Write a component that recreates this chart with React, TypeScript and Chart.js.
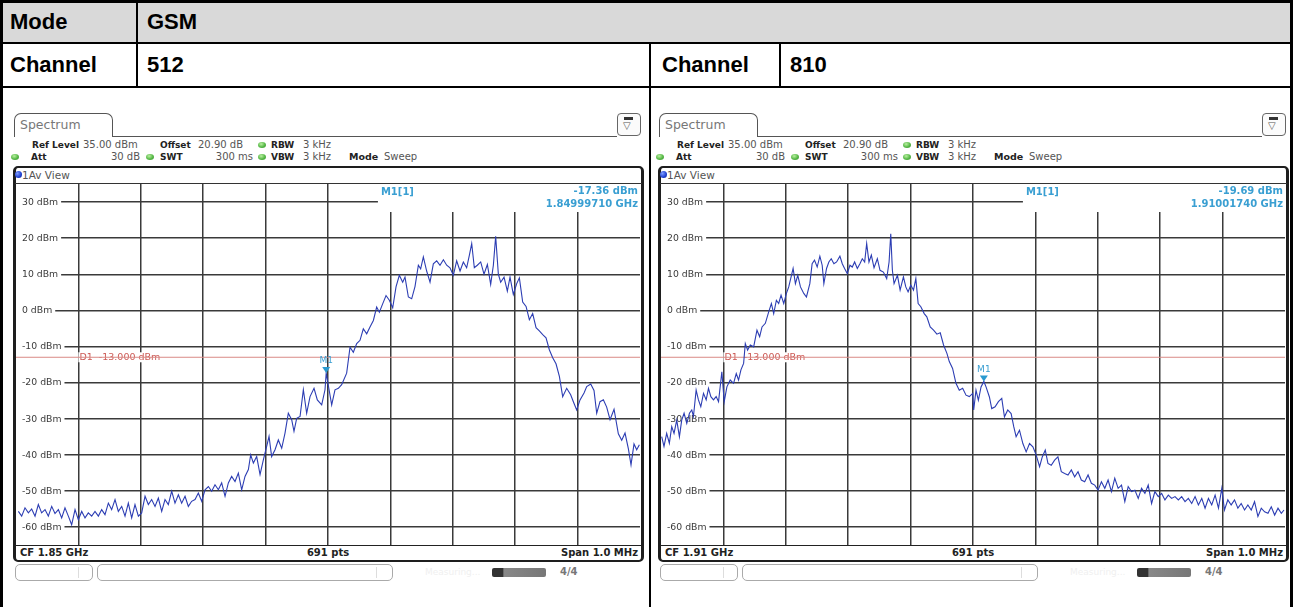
import React, { useEffect, useRef } from "react";
import { Chart, registerables } from "chart.js";
Chart.register(...registerables);

// ---------- axis definitions ----------
const Y_TICKS = [30, 20, 10, 0, -10, -20, -30, -40, -50, -60];
const Y_TICK_LABELS = ["30 dBm", "20 dBm", "10 dBm", "0 dBm", "-10 dBm", "-20 dBm", "-30 dBm", "-40 dBm", "-50 dBm", "-60 dBm"];
const X_TICKS = [-400, -300, -200, -100, 0, 100, 200, 300, 400];
const SPAN_KHZ = [-500, 500];
const LEVEL_RANGE = [-65, 35];
const D1_LEVEL = -13;
const D1_LABEL = "D1  -13.000 dBm";

// ---------- channel 512 trace (offset from CF in kHz, level in dBm) ----------
const FREQ_512 = [
  -496.2, -490.9, -485.6, -480.2, -474.9, -469.5, -464.2, -458.9, -453.5, -448.2,
  -442.8, -437.5, -432.1, -426.8, -421.5, -416.1, -410.8, -405.4, -400.1, -394.7,
  -389.4, -384.1, -378.7, -373.4, -368.0, -362.7, -357.4, -352.0, -346.7, -341.3,
  -336.0, -330.6, -325.3, -320.0, -314.6, -309.3, -303.9, -298.6, -293.2, -287.9,
  -282.6, -277.2, -271.9, -266.5, -261.2, -255.9, -250.5, -245.2, -239.8, -234.5,
  -229.1, -223.8, -218.5, -213.1, -207.8, -202.4, -197.1, -191.7, -186.4, -181.1,
  -175.7, -170.4, -165.0, -159.7, -154.4, -149.0, -143.7, -138.3, -133.0, -127.6,
  -123.9, -119.6, -114.3, -108.9, -103.6, -98.3, -94.5, -90.3, -84.9, -79.6,
  -74.2, -68.9, -63.6, -58.2, -54.5, -50.2, -44.8, -39.5, -34.2, -28.8,
  -22.4, -17.1, -10.1, -4.8, -2.9,
  5.9, 11.2, 16.6, 21.9, 29.9,
  35.3, 40.6, 46.0, 51.3, 56.6, 62.0, 67.3, 72.7, 78.0, 82.3,
  87.6, 93.0, 98.3, 103.7, 109.0, 114.3, 119.7, 123.4, 128.8, 134.1,
  139.4, 144.8, 148.5, 152.8, 158.1, 163.5, 168.8, 174.2, 179.5, 184.9,
  190.2, 195.5, 200.9, 206.2, 211.6, 216.9, 222.2, 226.5, 230.3, 234.5,
  239.3, 244.7, 250.0, 255.4, 260.7, 265.0, 268.7, 273.0, 276.7, 282.1,
  287.4, 291.7, 297.0, 302.4, 306.7, 312.0, 317.4, 322.7, 328.0, 333.4,
  338.7, 344.1, 349.4, 354.7, 360.1, 365.4, 370.8,
  376.1, 382.5, 388.9, 393.2, 398.5, 403.9, 410.3, 414.6, 421.0, 426.3,
  430.6, 435.9, 441.3, 446.6, 452.0, 458.4, 465.3, 470.7, 476.0, 481.4,
  485.6, 490.4, 494.7, 499.0,
];
const LEVEL_512 = [
  -55.7, -57.0, -54.7, -56.1, -55.0, -57.0, -53.8, -56.1, -55.2, -57.0,
  -54.3, -56.3, -55.2, -57.5, -54.7, -57.0, -59.4, -55.2, -58.0, -55.7,
  -57.5, -56.1, -57.0, -55.7, -57.0, -55.2, -56.6, -53.4, -55.2, -52.4,
  -55.7, -54.3, -57.0, -53.4, -57.5, -53.8, -57.0, -56.1, -51.5, -53.8,
  -52.4, -54.3, -52.0, -55.7, -52.4, -53.8, -50.1, -53.4, -51.1, -53.4,
  -51.5, -54.3, -52.9, -52.4, -50.6, -52.9, -49.7, -48.8, -50.1, -48.3,
  -49.7, -47.8, -51.5, -47.8, -46.0, -47.4, -45.1, -49.7, -46.0, -44.1,
  -40.0, -42.3, -40.5, -45.5, -41.4, -37.7, -34.9, -40.5, -38.6, -35.9,
  -38.2, -34.0, -28.5, -30.3, -33.5, -29.9, -29.4, -22.0, -28.5, -23.9,
  -21.6, -24.8, -26.2, -22.0, -17.36,
  -26.2, -22.0, -21.6, -20.6, -17.4,
  -10.2, -11.6, -9.2, -8.3, -5.1, -6.5, -4.6, -2.8, 0.9, -0.5,
  1.8, 4.1, 2.8, 0.7, 6.5, 9.7, 7.8, 9.2, 3.7, 3.2,
  6.6, 12.5, 11.5, 14.8, 10.9, 7.8, 12.9, 13.7, 12.5, 14.0,
  12.5, 11.8, 9.7, 13.7, 10.9, 13.4, 11.8, 15.2, 18.5, 11.8,
  12.5, 13.4, 10.0, 12.7, 7.2, 12.5, 20.5, 10.0, 7.8, 9.2,
  5.3, 9.2, 4.4, 7.4, 9.0, 2.3, 1.1, -2.6, -0.9, -4.8,
  -5.7, -6.7, -7.6, -10.9, -13.1, -14.8, -18.3,
  -23.9, -21.6, -23.4, -25.3, -27.6, -24.8, -22.9, -21.1, -20.4, -22.2,
  -28.5, -25.3, -24.8, -26.8, -30.3, -27.4, -34.2, -36.0, -34.0, -38.4,
  -42.8, -37.0, -38.6, -37.2,
];

// ---------- channel 810 trace ----------
const FREQ_810 = [
  -498.9, -495.2, -490.9, -486.6, -482.8, -479.1, -474.8, -470.5, -466.8, -463.0,
  -458.7, -454.4, -450.7, -448.0, -443.7, -440.0, -436.2, -431.9, -427.6, -423.9,
  -420.1, -415.9, -411.6, -407.8, -402.5, -398.7, -394.4, -389.1, -383.7, -379.4,
  -375.7, -371.9, -367.6, -364.9, -361.2, -356.9, -351.5, -346.2, -341.9, -338.1,
  -332.8, -327.4, -323.1, -319.4, -315.1, -311.4, -307.6, -303.3, -299.0, -295.3,
  -291.5, -288.3, -284.6, -280.8, -276.5, -271.2, -266.9, -261.5, -257.8, -254.0,
  -249.7, -245.4, -241.7, -239.0, -234.7, -231.0, -227.2, -222.9, -218.6, -213.3,
  -209.5, -205.8, -201.5, -197.2, -193.5, -189.7, -185.4, -181.2, -177.4, -173.6,
  -170.4, -166.7, -162.9, -158.6, -153.3, -149.0, -143.6, -138.3, -134.5, -131.8,
  -129.2, -126.5, -121.1, -116.8, -111.5, -107.7, -104.0, -99.7, -95.4, -91.6,
  -87.9, -83.6, -78.2, -74.0, -68.6, -63.2, -57.9, -52.5, -47.2, -41.8,
  -38.0, -32.7, -27.3, -22.0, -16.6, -11.2, -5.9, -0.5,
  1.1, 4.8, 8.6, 12.9, 17.4, 20.9, 26.3, 30.0, 35.4, 40.7,
  46.1, 50.4, 55.7, 61.1, 65.4, 69.1, 74.5, 79.9, 85.2, 90.6,
  96.0, 101.3, 106.7, 111.0, 115.8, 120.1, 125.4, 130.8, 136.1, 141.5,
  146.9, 152.2, 157.6, 162.9, 168.3, 173.6, 179.0, 184.4, 189.7, 195.1,
  200.4, 205.8, 211.2, 216.5, 221.9, 227.2, 232.6, 238.0, 243.3, 248.7,
  254.0, 259.4, 264.8, 270.1, 275.5, 280.8, 286.2, 291.5, 296.9, 302.3,
  307.6, 313.0, 318.3, 323.7, 329.1, 334.4, 339.8, 345.1, 350.5, 355.9,
  361.2, 366.6, 371.9, 377.3, 382.6, 388.0, 393.4, 398.7, 403.0, 408.4,
  413.7, 419.1, 424.5, 429.8, 435.2, 440.5, 445.9, 451.2, 456.6, 462.0,
  467.3, 472.7, 478.0, 483.4, 488.8, 494.1, 498.4,
];
const LEVEL_810 = [
  -35.0, -37.7, -34.1, -36.8, -32.2, -34.1, -30.4, -35.0, -30.4, -28.5,
  -31.3, -28.5, -27.6, -29.4, -22.1, -24.8, -26.7, -23.0, -24.8, -21.6,
  -23.9, -24.8, -23.9, -25.3, -17.0, -25.3, -21.2, -19.3, -20.2, -17.5,
  -19.3, -16.5, -14.7, -9.2, -11.0, -9.6, -10.1, -5.5, -7.3, -4.6,
  -3.6, -0.4, 1.9, -0.9, 2.8, 1.9, 4.2, 1.9, 4.7, 6.5,
  9.3, 11.6, 7.4, 9.7, 6.5, 4.7, 3.7, 7.4, 12.9, 13.9,
  12.0, 15.0, 12.5, 7.4, 11.6, 13.4, 14.3, 12.9, 13.4, 15.0,
  12.9, 11.6, 10.2, 12.5, 12.0, 13.4, 11.6, 12.9, 14.3, 13.4,
  18.5, 13.4, 15.3, 11.8, 14.3, 11.1, 10.6, 8.8, 13.4, 21.2,
  11.1, 7.4, 9.7, 5.6, 9.3, 6.5, 5.1, 7.0, 5.6, 8.8,
  1.9, 1.0, -0.9, -1.8, -4.6, -5.5, -6.6, -6.2, -9.6, -11.9,
  -14.2, -16.1, -20.2, -22.1, -21.6, -23.5, -23.9, -23.0,
  -27.6, -22.1, -24.9, -21.2, -19.69, -21.2, -24.0, -27.2, -26.7, -25.3,
  -24.4, -29.5, -27.6, -28.6, -32.3, -35.0, -33.2, -36.9, -39.2, -36.9,
  -37.8, -40.1, -43.3, -40.6, -38.7, -42.4, -42.9, -41.5, -40.6, -44.7,
  -45.2, -45.6, -44.2, -46.1, -44.7, -47.0, -47.5, -45.6, -47.9, -48.4,
  -49.8, -47.5, -49.3, -47.0, -50.2, -46.5, -49.3, -48.4, -53.0, -48.8,
  -50.2, -49.8, -52.1, -49.3, -50.7, -48.4, -53.5, -50.2, -51.6, -50.7,
  -52.5, -51.2, -52.1, -51.6, -52.5, -51.6, -53.0, -52.1, -53.5, -51.6,
  -53.9, -52.1, -54.8, -52.1, -53.9, -51.2, -54.8, -49.3, -55.3, -52.5,
  -53.9, -52.5, -54.8, -53.5, -55.3, -53.9, -55.3, -53.0, -57.1, -54.8,
  -55.8, -56.2, -54.4, -56.7, -54.8, -56.2, -55.3,
];

// ---------- marker data ----------
const M1_FREQ_KHZ = [-2.9, 17.4];
const M1_LEVEL = [-17.36, -19.69];
const M1_LEVEL_TEXT = ["-17.36 dBm", "-19.69 dBm"];
const M1_FREQ_TEXT = ["1.84999710 GHz", "1.91001740 GHz"];
const CF_TEXT = ["CF 1.85 GHz", "CF 1.91 GHz"];
const CHANNELS = ["512", "810"];

const FONT = '"DejaVu Sans", Verdana, sans-serif';
const MARKER_BLUE = "#3a9fd2";

const overlayPlugin = {
  id: "saOverlay",
  beforeDatasetsDraw(chart: any, _a: any, opts: any) {
    const { ctx, chartArea: a, scales } = chart;
    const x = scales.x, y = scales.y;
    ctx.save();
    // marker info box (white panel covering the grid)
    const bx = x.getPixelForValue(80);
    ctx.fillStyle = "#fff";
    ctx.fillRect(bx, a.top, a.right - bx, 28);
    ctx.fillStyle = MARKER_BLUE;
    ctx.textBaseline = "middle";
    ctx.font = `bold 10px ${FONT}`;
    ctx.textAlign = "left";
    ctx.fillText("M1[1]", bx + 3, a.top + 8);
    ctx.textAlign = "right";
    ctx.fillText(opts.levelText, a.right - 2, a.top + 7.5);
    ctx.fillText(opts.freqText, a.right - 2, a.top + 20.5);
    // y tick labels
    ctx.font = `9.3px ${FONT}`;
    ctx.textAlign = "left";
    Y_TICKS.forEach((v, i) => {
      const py = y.getPixelForValue(v);
      const t = Y_TICK_LABELS[i];
      const w = ctx.measureText(t).width;
      ctx.fillStyle = "#fff";
      ctx.fillRect(a.left, py - 5, w + 9, 10);
      ctx.fillStyle = "#3a3a3a";
      ctx.fillText(t, a.left + 6, py + 0.5);
    });
    // D1 limit label
    ctx.font = `9.5px ${FONT}`;
    const dx = x.getPixelForValue(-400);
    const dy = y.getPixelForValue(D1_LEVEL);
    const dw = ctx.measureText(D1_LABEL).width;
    ctx.fillStyle = "#fff";
    ctx.fillRect(dx, dy - 5, dw + 2, 10);
    ctx.fillStyle = "#cc5a55";
    ctx.fillText(D1_LABEL, dx + 1, dy + 0.5);
    ctx.restore();
  },
  afterDatasetsDraw(chart: any, _a: any, opts: any) {
    const { ctx, scales } = chart;
    const px = scales.x.getPixelForValue(opts.mFreq);
    const py = scales.y.getPixelForValue(opts.mLevel);
    ctx.save();
    ctx.fillStyle = "#2a9ad0";
    ctx.beginPath();
    ctx.moveTo(px - 4, py - 6);
    ctx.lineTo(px + 4, py - 6);
    ctx.lineTo(px, py);
    ctx.closePath();
    ctx.fill();
    ctx.fillStyle = MARKER_BLUE;
    ctx.font = `9px ${FONT}`;
    ctx.textAlign = "center";
    ctx.textBaseline = "middle";
    ctx.fillText("M1", px, py - 12);
    ctx.restore();
  },
};

function Plot({ idx, left, top }: { idx: number; left: number; top: number }) {
  const ref = useRef<HTMLCanvasElement>(null);
  useEffect(() => {
    const freq = idx === 0 ? FREQ_512 : FREQ_810;
    const level = idx === 0 ? LEVEL_512 : LEVEL_810;
    const n = Math.min(freq.length, level.length);
    const trace = [] as { x: number; y: number }[];
    for (let i = 0; i < n; i++) trace.push({ x: freq[i], y: level[i] });
    const grid = { color: "#3a3a3a", lineWidth: 1.5, drawTicks: false };
    const chart = new Chart(ref.current as HTMLCanvasElement, {
      type: "line",
      data: {
        datasets: [
          { data: trace, borderColor: "#2c3db3", borderWidth: 1.1, pointRadius: 0, tension: 0, order: 0 },
          {
            data: [
              { x: SPAN_KHZ[0], y: D1_LEVEL },
              { x: SPAN_KHZ[1], y: D1_LEVEL },
            ],
            borderColor: "#d98a86",
            borderWidth: 1,
            pointRadius: 0,
            order: 1,
          },
        ],
      },
      options: {
        animation: false,
        responsive: false,
        maintainAspectRatio: false,
        events: [],
        layout: { padding: 0 },
        plugins: {
          legend: { display: false },
          tooltip: { enabled: false },
          saOverlay: {
            levelText: M1_LEVEL_TEXT[idx],
            freqText: M1_FREQ_TEXT[idx],
            mFreq: M1_FREQ_KHZ[idx],
            mLevel: M1_LEVEL[idx],
          },
        } as any,
        scales: {
          x: {
            type: "linear",
            min: SPAN_KHZ[0],
            max: SPAN_KHZ[1],
            afterBuildTicks: (s: any) => {
              s.ticks = X_TICKS.map((v) => ({ value: v }));
            },
            ticks: { display: false },
            grid,
            border: { display: false },
          },
          y: {
            type: "linear",
            min: LEVEL_RANGE[0],
            max: LEVEL_RANGE[1],
            afterBuildTicks: (s: any) => {
              s.ticks = Y_TICKS.map((v) => ({ value: v }));
            },
            ticks: { display: false },
            grid,
            border: { display: false },
          },
        },
      },
      plugins: [overlayPlugin as any],
    });
    return () => chart.destroy();
  }, [idx]);
  return (
    <canvas
      ref={ref}
      width={624}
      height={361}
      style={{ position: "absolute", left, top, width: 624, height: 361 }}
    />
  );
}

const abs = (o: any) => ({ position: "absolute", ...o } as React.CSSProperties);

function T({ x, y, text, bold, color, align, size }: any) {
  const tr = align === "right" ? "translate(-100%,-50%)" : align === "center" ? "translate(-50%,-50%)" : "translate(0,-50%)";
  return (
    <span
      style={abs({
        left: x,
        top: y,
        transform: tr,
        whiteSpace: "pre",
        font: `${bold ? "bold " : ""}${size || 10}px ${FONT}`,
        color: color || (bold ? "#222" : "#555"),
        lineHeight: "12px",
      })}
    >
      {text}
    </span>
  );
}

function Dot({ x, y }: { x: number; y: number }) {
  return (
    <div
      style={abs({
        left: x - 4,
        top: y - 3,
        width: 8,
        height: 6,
        borderRadius: "50%",
        background: "radial-gradient(ellipse at 40% 35%, #b9f0a0 0%, #56b847 55%, #3a8f30 100%)",
      })}
    />
  );
}

function Panel({ idx, dx }: { idx: number; dx: number }) {
  return (
    <>
      {/* tab */}
      <div
        style={abs({
          left: 14 + dx,
          top: 113,
          width: 99,
          height: 24,
          border: "1.5px solid #555",
          borderBottom: "none",
          borderRadius: "7px 7px 0 0",
          background: "#fff",
          boxSizing: "border-box",
        })}
      >
        <span style={abs({ left: 5, top: 4, font: `12.5px ${FONT}`, color: "#777", lineHeight: "14px" })}>Spectrum</span>
      </div>
      <div style={abs({ left: 112 + dx, top: 136, width: 505, height: 0, borderTop: "1.5px solid #555" })} />
      {/* icon */}
      <div
        style={abs({
          left: 617 + dx,
          top: 113,
          width: 24,
          height: 23,
          border: "1.5px solid #666",
          borderRadius: 4,
          boxSizing: "border-box",
          background: "#fbfbfb",
        })}
      >
        <div style={abs({ left: 6, top: 3, width: 9, height: 3, background: "#333" })} />
        <div style={abs({ left: 5, top: 6, font: `10px ${FONT}`, color: "#555", lineHeight: "11px" })}>▽</div>
      </div>
      {/* header line 1 */}
      <T x={32 + dx} y={145} text="Ref Level" bold size={9} />
      <T x={83 + dx} y={145} text="35.00 dBm" />
      <T x={160 + dx} y={145} text="Offset" bold size={9} />
      <T x={198 + dx} y={145} text="20.90 dB" />
      <Dot x={262 + dx} y={145} />
      <T x={271 + dx} y={145} text="RBW" bold size={9} />
      <T x={303 + dx} y={145} text="3 kHz" />
      {/* header line 2 */}
      <Dot x={15 + dx} y={157} />
      <T x={31 + dx} y={157} text="Att" bold size={9} />
      <T x={140 + dx} y={157} text="30 dB" align="right" />
      <Dot x={150 + dx} y={157} />
      <T x={160 + dx} y={157} text="SWT" bold size={9} />
      <T x={253 + dx} y={157} text="300 ms" align="right" />
      <Dot x={262 + dx} y={157} />
      <T x={271 + dx} y={157} text="VBW" bold size={9} />
      <T x={303 + dx} y={157} text="3 kHz" />
      <T x={349 + dx} y={157} text="Mode" bold size={9.5} />
      <T x={384 + dx} y={157} text="Sweep" />
      {/* frame */}
      <div
        style={abs({
          left: 13 + dx,
          top: 166,
          width: 631,
          height: 396,
          border: "2px solid #1e1e1e",
          borderLeftWidth: 3,
          borderRightWidth: 3,
          borderRadius: 5,
          boxSizing: "border-box",
        })}
      />
      <div
        style={abs({
          left: 15 + dx,
          top: 171,
          width: 7,
          height: 7,
          borderRadius: "50%",
          background: "radial-gradient(circle at 35% 35%, #7f9cff 0%, #1f3fd0 60%, #10258a 100%)",
        })}
      />
      <T x={22 + dx} y={175} text="1Av View" size={10.5} color="#555" />
      <div style={abs({ left: 15 + dx, top: 182.5, width: 627, height: 0, borderTop: "1px solid #333" })} />
      <Plot idx={idx} left={16 + dx} top={184} />
      <div style={abs({ left: 15 + dx, top: 545, width: 627, height: 0, borderTop: "1.5px solid #222" })} />
      <T x={20 + dx} y={553} text={CF_TEXT[idx]} bold size={10} color="#222" />
      <T x={328 + dx} y={553} text="691 pts" bold size={10} color="#222" align="center" />
      <T x={638 + dx} y={553} text="Span 1.0 MHz" bold size={10} color="#222" align="right" />
      {/* status bar */}
      <div style={abs({ left: 15 + dx, top: 564, width: 78, height: 17, border: "1px solid #aaa", borderRadius: 5, boxSizing: "border-box" })}>
        <div style={abs({ left: 62, top: 2, width: 1, height: 11, background: "#ddd" })} />
      </div>
      <div style={abs({ left: 97 + dx, top: 564, width: 296, height: 17, border: "1px solid #aaa", borderRadius: 5, boxSizing: "border-box" })}>
        <div style={abs({ left: 278, top: 2, width: 1, height: 11, background: "#ddd" })} />
      </div>
      <T x={425 + dx} y={572} text="Measuring..." size={9} color="#f0f0f0" />
      <div
        style={abs({
          left: 492 + dx,
          top: 568,
          width: 54,
          height: 9,
          borderRadius: 2,
          background: "linear-gradient(90deg, #333 0%, #333 20%, #888 22%, #777 100%)",
        })}
      />
      <T x={560 + dx} y={572} text="4/4" bold size={10} color="#777" />
    </>
  );
}

export default function App() {
  const label = { font: "bold 22px 'Liberation Sans', Arial, sans-serif", color: "#000", lineHeight: "26px" };
  return (
    <div style={abs({ left: 0, top: 0, width: 1293, height: 607, background: "#fff", overflow: "hidden" })}>
      {/* table background & lines */}
      <div style={abs({ left: 3, top: 3, width: 1287, height: 39, background: "#d9d9d9" })} />
      <div style={abs({ left: 0, top: 0, width: 1293, height: 3, background: "#000" })} />
      <div style={abs({ left: 0, top: 0, width: 3, height: 607, background: "#000" })} />
      <div style={abs({ left: 1290, top: 0, width: 3, height: 607, background: "#000" })} />
      <div style={abs({ left: 0, top: 42, width: 1293, height: 2, background: "#000" })} />
      <div style={abs({ left: 0, top: 86, width: 1293, height: 2, background: "#000" })} />
      <div style={abs({ left: 136, top: 0, width: 2, height: 88, background: "#000" })} />
      <div style={abs({ left: 649, top: 44, width: 2, height: 563, background: "#000" })} />
      <div style={abs({ left: 779, top: 44, width: 2, height: 44, background: "#000" })} />
      <span style={abs({ ...label, left: 10, top: 9 })}>Mode</span>
      <span style={abs({ ...label, left: 147, top: 9 })}>GSM</span>
      <span style={abs({ ...label, left: 10, top: 52 })}>Channel</span>
      <span style={abs({ ...label, left: 147, top: 52 })}>{CHANNELS[0]}</span>
      <span style={abs({ ...label, left: 662, top: 52 })}>Channel</span>
      <span style={abs({ ...label, left: 790, top: 52 })}>{CHANNELS[1]}</span>
      <Panel idx={0} dx={0} />
      <Panel idx={1} dx={645} />
    </div>
  );
}
